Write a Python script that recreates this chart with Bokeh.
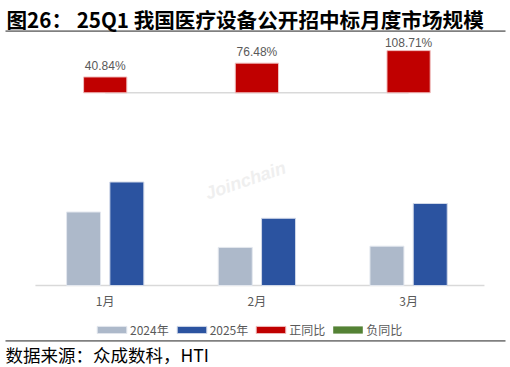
from bokeh.plotting import figure
from bokeh.models import (Range1d, ColumnDataSource, Legend, LegendItem, Label)
from bokeh.transform import dodge
from bokeh.embed import file_html
from bokeh.resources import INLINE
from bokeh.core.properties import value

# ---- data ----
months = ["1月", "2月", "3月"]
val_2024 = [73.5, 38.1, 39.3]
val_2025 = [103.5, 67.2, 82.0]
yoy = [40.84, 76.48, 108.71]
series_names = ["2024年", "2025年", "正同比", "负同比"]
title_text = "图26： 25Q1 我国医疗设备公开招中标月度市场规模"
source_text = "数据来源：众成数科，HTI"

xs = [i + 1 for i in range(len(months))]
CJK = "Noto Sans CJK SC"
nan = float("nan")

# the frame fills the whole 510x367 canvas
p = figure(frame_width=510, frame_height=367, output_backend="svg",
           toolbar_location=None, x_range=Range1d(0.3098, 3.6718),
           y_range=Range1d(-82, 285), min_border=0, title=None,
           x_axis_location=None, y_axis_location=None)
p.extra_y_ranges = {"yoy": Range1d(-708.0, 237.9), "page": Range1d(367, 0)}
p.extra_x_ranges = {"px": Range1d(0, 510)}
p.xgrid.visible = False
p.ygrid.visible = False
p.outline_line_color = None

src = ColumnDataSource(dict(x=xs, v24=val_2024, v25=val_2025))
pos_x = [x for x, v in zip(xs, yoy) if v >= 0]
pos_v = [v for v in yoy if v >= 0]
neg_x = [x for x, v in zip(xs, yoy) if v < 0] or [nan]
neg_v = [v for v in yoy if v < 0] or [nan]
gap, cap = 28.4, 127.3
lab = ColumnDataSource(dict(x=xs,
                            y=[min(v + gap, cap) for v in yoy],
                            t=["%.2f%%" % v for v in yoy]))

# baselines
p.segment(x0=[xs[0] - 0.46], y0=[0], x1=[xs[-1] + 0.5], y1=[0],
          line_color="#D9D9D9", line_width=1.5)
p.segment(x0=[xs[0]], y0=[0], x1=[xs[-1]], y1=[0], y_range_name="yoy",
          line_color="#D9D9D9", line_width=1.5)

r24 = p.vbar(x=dodge("x", -0.1427, range=p.x_range), top="v24", width=0.224,
             source=src, fill_color="#ADB9CA", line_color="#E3E7EE", line_width=1)
r25 = p.vbar(x=dodge("x", 0.1427, range=p.x_range), top="v25", width=0.224,
             source=src, fill_color="#2B53A0", line_color="#D0D8E8", line_width=1)
rpos = p.vbar(x=pos_x, top=pos_v, width=0.285, y_range_name="yoy",
              fill_color="#C00000", line_color="#F0C0C0", line_width=1)
rneg = p.vbar(x=neg_x, top=neg_v, width=0.285, y_range_name="yoy",
              fill_color="#548235", line_color=None)

# value labels
p.text(x="x", y="y", text="t", source=lab, y_range_name="yoy",
       text_align="center", text_baseline="alphabetic",
       text_font=value("Liberation Sans"), text_font_size="12px",
       text_color="#595959")

# category labels (x positions from the category scale)
p.text(x=xs, y=[300] * len(xs), text=months, y_range_name="page",
       text_align="center", text_baseline="middle",
       text_font=value(CJK), text_font_size="12px", text_color="#595959")

# watermark
p.add_layout(Label(x=1.925, y=105, text="Joinchain", angle=0.33,
                   text_align="center", text_baseline="middle",
                   text_color="#EFEFEF", text_font_size="18px",
                   text_font_style="bold italic", text_font="Liberation Sans"))

# title + rule under it
p.add_layout(Label(x=6, y=18, x_range_name="px", y_range_name="page",
                   text=title_text, text_baseline="middle", text_align="left",
                   text_font=CJK, text_font_size="20.6px",
                   text_font_style="bold", text_color="#000000"))
p.segment(x0=[5], y0=[30.7], x1=[505], y1=[30.7], x_range_name="px",
          y_range_name="page", line_color="#808080", line_width=1.8)

# legend
legend = Legend(items=[LegendItem(label=series_names[0], renderers=[r24]),
                       LegendItem(label=series_names[1], renderers=[r25]),
                       LegendItem(label=series_names[2], renderers=[rpos]),
                       LegendItem(label=series_names[3], renderers=[rneg])],
                orientation="horizontal", location=(93, 29),
                glyph_width=37, glyph_height=9, label_standoff=0, spacing=4,
                label_height=16, label_text_font=CJK, label_text_font_size="12px",
                label_text_color="#595959", border_line_color=None,
                background_fill_alpha=0, padding=0, margin=0)
p.add_layout(legend, "center")

# rule + source
p.segment(x0=[5], y0=[340.3], x1=[505], y1=[340.3], x_range_name="px",
          y_range_name="page", line_color="#808080", line_width=1.8)
p.add_layout(Label(x=5, y=353.7, x_range_name="px", y_range_name="page",
                   text=source_text, text_baseline="middle", text_align="left",
                   text_font=CJK, text_font_size="17.5px", text_color="#000000"))

open("out.html", "w").write(file_html(p, INLINE))
